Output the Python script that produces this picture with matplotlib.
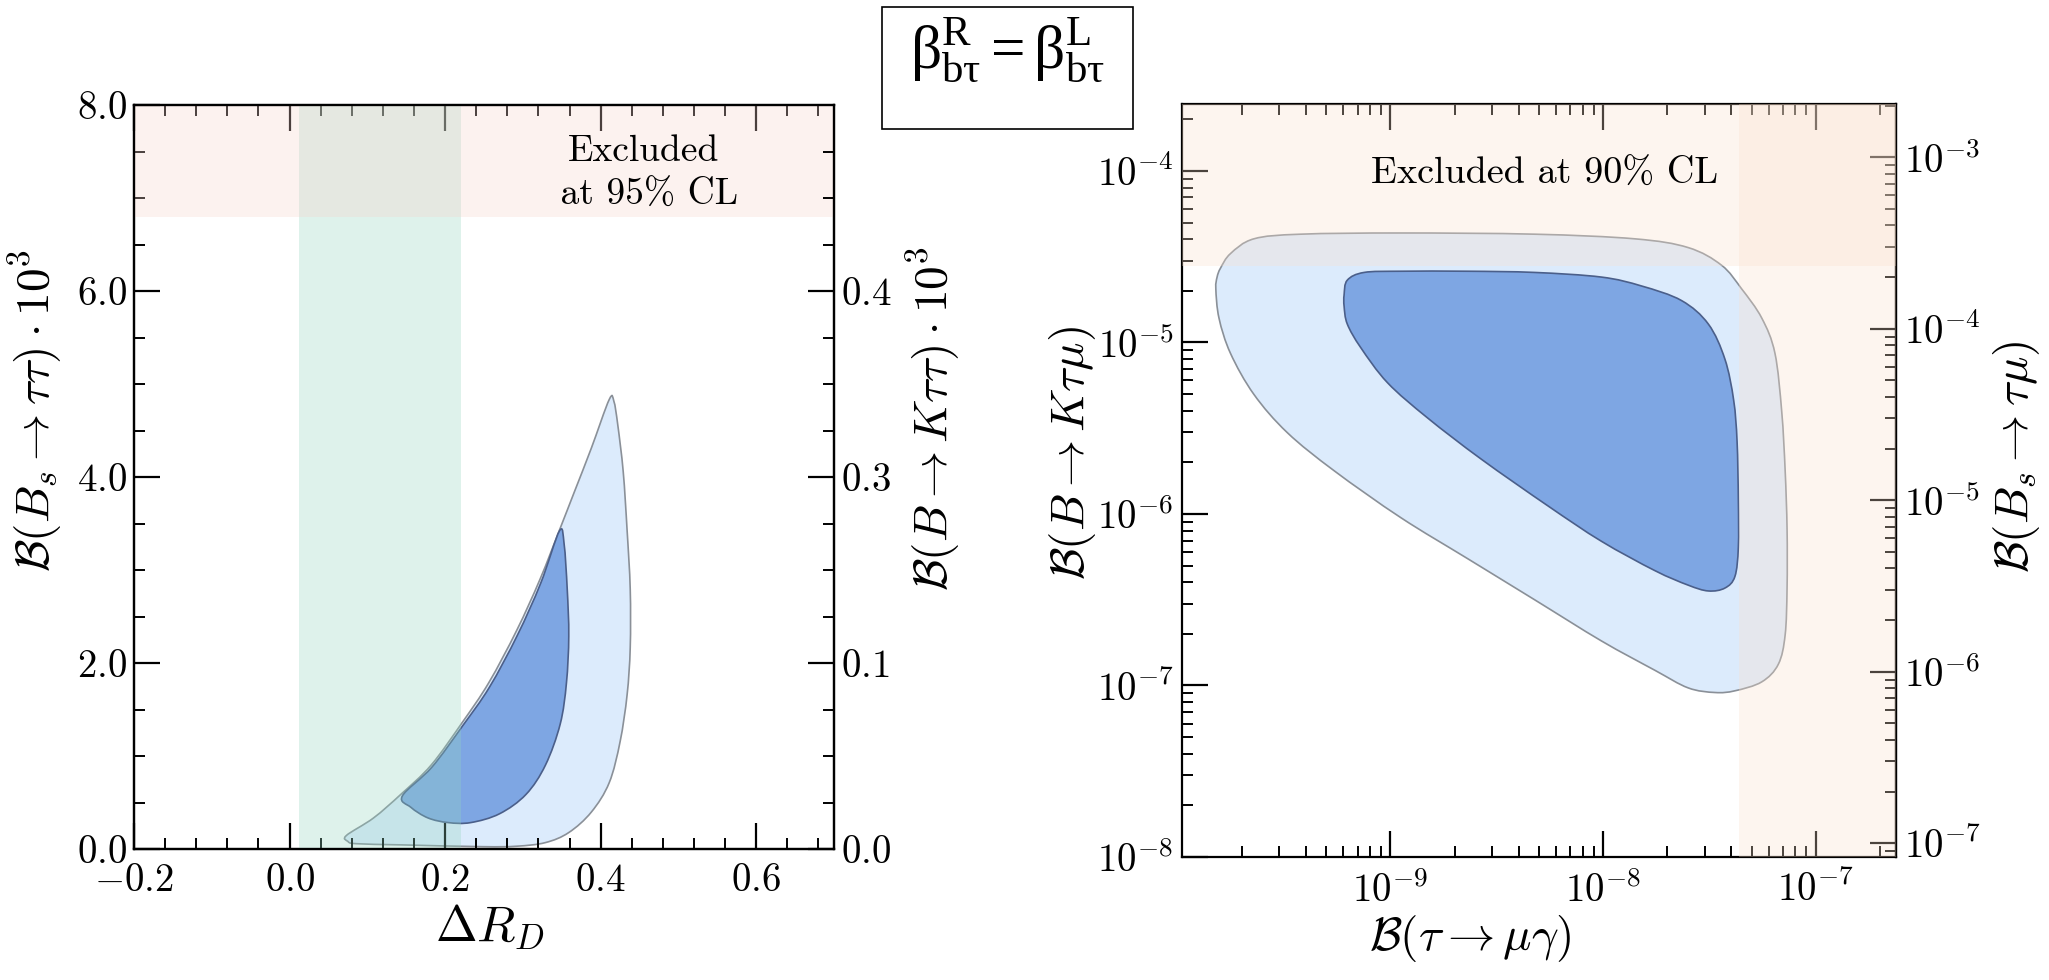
import numpy as np
import matplotlib
matplotlib.use("Agg")
import matplotlib.pyplot as plt
from matplotlib.path import Path
from matplotlib.patches import PathPatch, Rectangle
from matplotlib.ticker import MultipleLocator, FuncFormatter

plt.rcParams['mathtext.fontset'] = 'cm'
plt.rcParams['font.family'] = 'serif'
plt.rcParams['font.serif'] = ['cmr10']
plt.rcParams['axes.formatter.use_mathtext'] = True
plt.rcParams['mathtext.rm'] = 'Liberation Serif'
plt.rcParams['mathtext.it'] = 'Liberation Serif:italic'

# ---- left panel: Delta R_D vs B(Bs -> tau tau) * 10^3 ----
rd_outer_x = [0.073, 0.108, 0.143, 0.182, 0.222, 0.256, 0.292, 0.322, 0.348, 0.366, 0.388, 0.411,
              0.417, 0.422, 0.429, 0.434, 0.438, 0.438, 0.434, 0.425, 0.411, 0.388, 0.359, 0.329,
              0.292, 0.248, 0.145, 0.086, 0.075]
rd_outer_y = [0.145, 0.334, 0.587, 0.902, 1.36, 1.786, 2.35, 2.90, 3.45, 3.836, 4.31, 4.833,
              4.814, 4.56, 4.057, 3.426, 2.795, 2.164, 1.659, 1.155, 0.713, 0.397, 0.177, 0.069,
              0.03, 0.025, 0.044, 0.057, 0.082]
rd_inner_x = [0.145, 0.183, 0.223, 0.257, 0.293, 0.323, 0.347, 0.353, 0.357, 0.359, 0.356, 0.348,
              0.329, 0.304, 0.270, 0.233, 0.204, 0.178, 0.156]
rd_inner_y = [0.57, 0.88, 1.33, 1.74, 2.30, 2.86, 3.42, 3.28, 2.795, 2.29, 1.786, 1.344,
              0.902, 0.587, 0.379, 0.284, 0.284, 0.334, 0.448]
rd_band = (0.012, 0.22)          # measured Delta R_D band
bs_excl_left = 6.8               # Bs -> tau tau limit
right_tick_pos = [0, 2, 4, 6]
right_tick_lab = ['0.0', '0.1', '0.3', '0.4']

# ---- right panel: B(tau -> mu gamma) vs B(B -> K tau mu)  (log10 values) ----
mu_outer_lx = [-9.815, -9.799, -9.752, -9.642, -9.422, -8.951, -8.323, -7.852, -7.601, -7.444,
               -7.350, -7.255, -7.193, -7.161, -7.145, -7.136, -7.136, -7.145, -7.177, -7.255,
               -7.381, -7.475, -7.601, -7.758, -8.009, -8.323, -8.637, -8.951, -9.265, -9.485,
               -9.642, -9.752, -9.806, -9.821]
mu_outer_ly = [-4.619, -4.567, -4.482, -4.396, -4.369, -4.362, -4.369, -4.396, -4.447, -4.550,
               -4.687, -4.858, -5.063, -5.405, -5.747, -6.089, -6.432, -6.705, -6.876, -6.979,
               -7.031, -7.041, -7.014, -6.911, -6.740, -6.500, -6.261, -6.022, -5.748, -5.526,
               -5.303, -5.064, -4.859, -4.688]
mu_inner_lx = [-9.218, -9.203, -9.124, -8.951, -8.637, -8.323, -8.009, -7.820, -7.632, -7.506,
               -7.428, -7.387, -7.371, -7.365, -7.365, -7.381, -7.428, -7.506, -7.601, -7.758,
               -8.009, -8.260, -8.574, -8.826, -9.014, -9.140, -9.203, -9.218]
mu_inner_ly = [-4.722, -4.637, -4.592, -4.585, -4.585, -4.592, -4.619, -4.671, -4.756, -4.893,
               -5.098, -5.337, -5.577, -5.919, -6.193, -6.364, -6.432, -6.449, -6.415, -6.330,
               -6.159, -5.953, -5.680, -5.440, -5.235, -5.030, -4.893, -4.790]
taumug_limit = 4.35e-8
bktaumu_limit = 2.8e-5
bs_ratio = 10 ** 0.92            # B(Bs -> tau mu) / B(B -> K tau mu)

LIGHT = '#dcebfc'
DARK = '#7ea6e3'
EDGE_OUT = '#8a9098'
EDGE_IN = '#4b5f8a'


def smooth_path(xs, ys):
    pts = np.column_stack([xs, ys])
    n = len(pts)
    verts = [pts[0]]
    codes = [Path.MOVETO]
    for i in range(n):
        p0, p1, p2, p3 = pts[i - 1], pts[i], pts[(i + 1) % n], pts[(i + 2) % n]
        verts += [p1 + (p2 - p0) / 6, p2 - (p3 - p1) / 6, p2]
        codes += [Path.CURVE4] * 3
    return Path(np.array(verts), codes)


def log_path(lx, ly):
    p = smooth_path(lx, ly)
    return Path(10 ** p.vertices, p.codes)


def style_ticks(ax, **kw):
    ax.tick_params(which='both', direction='in', labelsize=28, **kw)
    ax.tick_params(which='major', length=19, width=1.6)
    ax.tick_params(which='minor', length=8, width=1.4)


fig = plt.figure(figsize=(20.49, 9.8), dpi=100)

# ---------------- left ----------------
ax1 = fig.add_axes([134 / 2049, 131 / 980, 700 / 2049, 744 / 980])
ax1.add_patch(PathPatch(smooth_path(rd_outer_x, rd_outer_y), fc=LIGHT, ec=EDGE_OUT, lw=1.2, zorder=1))
ax1.add_patch(PathPatch(smooth_path(rd_inner_x, rd_inner_y), fc=DARK, ec=EDGE_IN, lw=1.2, zorder=2))
ax1.axvspan(*rd_band, color='#94d7c0', alpha=0.3, lw=0, zorder=5)
ax1.axhspan(bs_excl_left, 8, color='#f8d4cd', alpha=0.3, lw=0, zorder=6)
ax1.text(0.455, 7.27, 'Excluded\n at 95% CL', ha='center', va='center', fontsize=27,
         family='cmr10', zorder=7, linespacing=1.4)
ax1.set_xlim(-0.2, 0.7)
ax1.set_ylim(0, 8)
ax1.xaxis.set_major_locator(MultipleLocator(0.2))
ax1.xaxis.set_minor_locator(MultipleLocator(0.04))
ax1.yaxis.set_major_locator(MultipleLocator(2))
ax1.yaxis.set_minor_locator(MultipleLocator(0.5))
fmt = FuncFormatter(lambda v, p: '$%.1f$' % v)
ax1.xaxis.set_major_formatter(fmt)
ax1.yaxis.set_major_formatter(fmt)
style_ticks(ax1, top=True, right=False)
ax1.tick_params(axis='x', pad=10)
ax1.tick_params(axis='y', pad=5)
ax1.set_xlabel(r'$\Delta R_D$', fontsize=36)
ax1.xaxis.set_label_coords(0.509, -0.071)
ax1.set_ylabel(r'$\mathcal{B}(B_s\to\tau\tau)\cdot 10^3$', fontsize=34)
ax1.yaxis.set_label_coords(-0.1, 0.59)

tw = ax1.twinx()
tw.set_ylim(0, 8)
tw.set_yticks(right_tick_pos)
tw.set_yticklabels(['$%s$' % s for s in right_tick_lab])
tw.yaxis.set_minor_locator(MultipleLocator(0.5))
style_ticks(tw, pad=5)
tw.set_ylabel(r'$\mathcal{B}(B\to K\tau\tau)\cdot 10^3$', fontsize=34)
tw.yaxis.set_label_coords(1.1, 0.578)

for ax in (ax1, tw):
    for s in ax.spines.values():
        s.set_linewidth(1.6)

# ---------------- right ----------------
ax2 = fig.add_axes([1182 / 2049, 123 / 980, 714 / 2049, 753 / 980])
ax2.set_xscale('log')
ax2.set_yscale('log')
ax2.set_xlim(10 ** -9.98, 10 ** -6.624)
ax2.set_ylim(1e-8, 10 ** -3.61)
ax2.add_patch(PathPatch(log_path(mu_outer_lx, mu_outer_ly), fc=LIGHT, ec=EDGE_OUT, lw=1.2, zorder=1))
ax2.add_patch(PathPatch(log_path(mu_inner_lx, mu_inner_ly), fc=DARK, ec=EDGE_IN, lw=1.2, zorder=2))
ax2.axhspan(bktaumu_limit, 1, color='#fbe1cd', alpha=0.3, lw=0, zorder=5)
ax2.axvspan(taumug_limit, 1, color='#fbe1cd', alpha=0.3, lw=0, zorder=5)
ax2.text(10 ** -8.277, 10 ** -4.017, 'Excluded at 90% CL', ha='center', va='center',
         fontsize=27.5, family='cmr10', zorder=7)
style_ticks(ax2, top=True, right=False)
ax2.tick_params(axis='x', pad=10)
ax2.tick_params(axis='y', pad=6)
ax2.set_xlabel(r'$\mathcal{B}(\tau\to\mu\gamma)$', fontsize=34)
ax2.xaxis.set_label_coords(0.403, -0.075)
ax2.set_ylabel(r'$\mathcal{B}(B\to K\tau\mu)$', fontsize=34)
ax2.yaxis.set_label_coords(-0.118, 0.537)

sec = ax2.secondary_yaxis('right', functions=(lambda y: y * bs_ratio, lambda y: y / bs_ratio))
style_ticks(sec, pad=6)
sec.set_ylabel(r'$\mathcal{B}(B_s\to\tau\mu)$', fontsize=34)
sec.yaxis.set_label_coords(1.133, 0.531, transform=ax2.transAxes)
for s in list(ax2.spines.values()) + list(sec.spines.values()):
    s.set_linewidth(1.6)

# ---------------- boxed title ----------------
fig.patches.append(Rectangle((882 / 2049, 851 / 980), 251 / 2049, 122 / 980, transform=fig.transFigure,
                             fill=False, ec='black', lw=1.2))
fig.text(1007 / 2049, 930 / 980, r'$\mathrm{\beta^{R}_{b\tau} = \beta^{L}_{b\tau}}$', ha='center',
         va='center', fontsize=44, math_fontfamily='custom')

fig.savefig('out.png', dpi=100)
